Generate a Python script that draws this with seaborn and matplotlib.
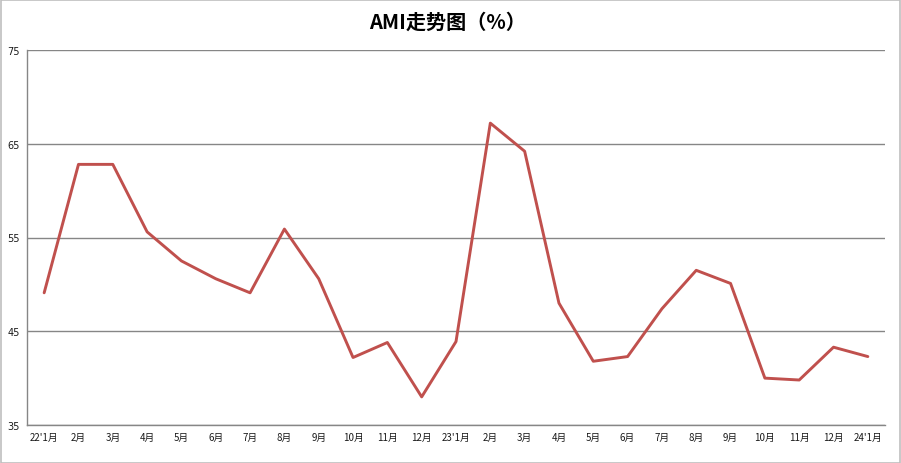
import matplotlib
matplotlib.use("Agg")
import matplotlib.pyplot as plt
import seaborn as sns
import pandas as pd
from matplotlib.patches import Rectangle

months = ["22'1月", "2月", "3月", "4月", "5月", "6月", "7月", "8月", "9月", "10月", "11月", "12月",
          "23'1月", "2月", "3月", "4月", "5月", "6月", "7月", "8月", "9月", "10月", "11月", "12月",
          "24'1月"]
ami = [49.1, 62.8, 62.8, 55.6, 52.5, 50.6, 49.1, 55.9, 50.6, 42.2, 43.8, 38.0,
       43.9, 67.2, 64.2, 48.0, 41.8, 42.3, 47.4, 51.5, 50.1, 40.0, 39.8, 43.3,
       42.3]
y_ticks = [35, 45, 55, 65, 75]
title = "AMI走势图（%）"

sns.set_theme(style="white")
plt.rcParams['font.family'] = ['Noto Sans CJK SC', 'DejaVu Sans']

df = pd.DataFrame({"idx": range(len(months)), "AMI": ami})

W, H = 901, 464
fig = plt.figure(figsize=(W / 100, H / 100), dpi=100)
fig.patch.set_facecolor("white")
ax = fig.add_axes([27 / W, (H - 426) / H, 858 / W, 375 / H])

sns.lineplot(data=df, x="idx", y="AMI", ax=ax, color="#C0504D", linewidth=2.1,
             sort=False, legend=False)

ax.set_xlim(-0.5, len(months) - 0.5)
ax.set_ylim(y_ticks[0], y_ticks[-1])
ax.set_yticks(y_ticks)
ax.set_yticklabels([str(v) for v in y_ticks], fontsize=7, color="#1a1a1a",
                   family=['Liberation Sans Narrow', 'DejaVu Sans'])
ax.set_xticks(range(len(months)))
ax.set_xticklabels(months, fontsize=7, color="#1a1a1a")
ax.set_xticks([i - 0.5 for i in range(len(months) + 1)], minor=True)
ax.tick_params(axis="x", which="major", length=0, pad=5)
ax.tick_params(axis="x", which="minor", length=4, width=1, color="#868686", direction="out")
ax.tick_params(axis="y", which="major", length=4, width=1, color="#868686", direction="out", pad=1)

ax.grid(axis="y", color="#868686", linewidth=1)
ax.set_axisbelow(True)
for side in ["top", "right"]:
    ax.spines[side].set_visible(False)
for side in ["left", "bottom"]:
    ax.spines[side].set_color("#868686")
    ax.spines[side].set_linewidth(1)
ax.set_xlabel("")
ax.set_ylabel("")

fig.text(448 / W, 1 - 22 / H, title, ha="center", va="center", fontsize=14.5,
         fontweight="bold", color="black")

fig.patches.append(Rectangle((0.5 / W, 0.5 / H), 1 - 1.5 / W, 1 - 1.5 / H,
                             transform=fig.transFigure, fill=False,
                             edgecolor="#BFBFBF", linewidth=1.2))

fig.savefig("out.png", dpi=100)
